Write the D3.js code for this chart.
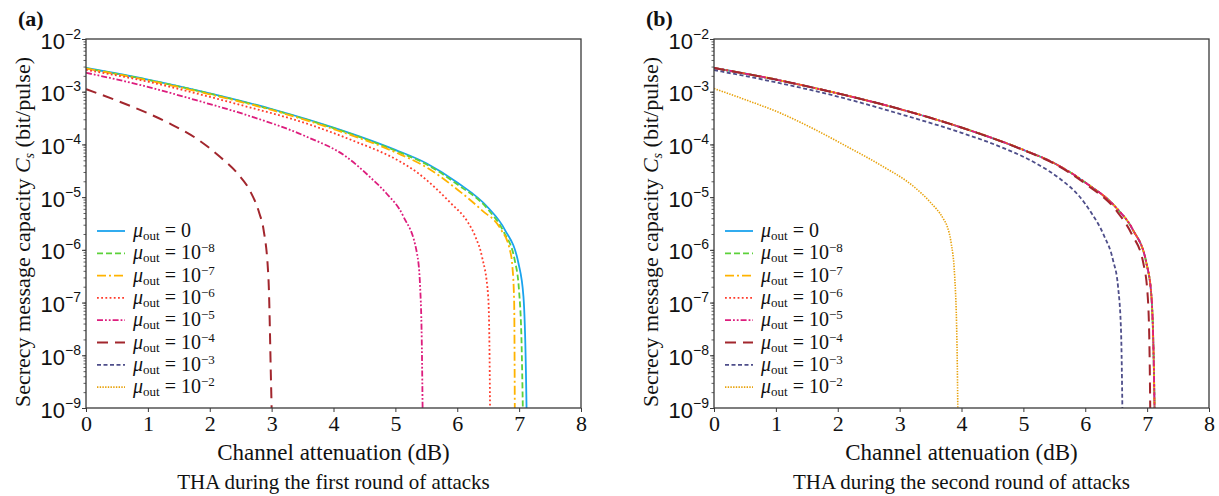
<!DOCTYPE html>
<html>
<head>
<meta charset="utf-8">
<script src="https://cdn.jsdelivr.net/npm/d3@7"></script>
<style>
  body { margin: 0; background: #fff; }
  svg { font-family: "Liberation Serif", "Times New Roman", serif; }
</style>
</head>
<body>
<svg id="chart" width="1219" height="496"></svg>
<script>
// legend exponents for mu_out (index 0 means mu_out = 0)
const muExp = ["0", "−8", "−7", "−6", "−5", "−4", "−3", "−2"];
const yTickExp = [-9, -8, -7, -6, -5, -4, -3, -2];
const xTicks = [0, 1, 2, 3, 4, 5, 6, 7, 8];

// panel (a): first round of attacks, attenuation (dB) vs Cs (bit/pulse)
const a0_x  = [0, 1, 2, 3, 4, 5, 5.5, 6, 6.5, 6.77, 6.99, 7.07, 7.11, 7.12];
const a0_y  = [2.82e-3, 1.70e-3, 9.3e-4, 4.7e-4, 2.09e-4, 7.9e-5, 4.4e-5, 1.9e-5, 6.3e-6, 2.4e-6, 5.5e-7, 1.3e-7, 5e-9, 1e-9];
const a8_x  = [0, 1, 2, 3, 4, 5, 5.5, 6, 6.5, 6.75, 6.93, 7.0, 7.04, 7.06];
const a8_y  = [2.79e-3, 1.68e-3, 9.2e-4, 4.6e-4, 2.04e-4, 7.6e-5, 4.2e-5, 1.75e-5, 5.8e-6, 2.2e-6, 6.3e-7, 1.6e-7, 1.6e-8, 1e-9];
const a7_x  = [0, 1, 2, 3, 4, 5, 5.5, 6, 6.4, 6.7, 6.85, 6.89, 6.92, 6.93];
const a7_y  = [2.75e-3, 1.64e-3, 8.9e-4, 4.5e-4, 1.95e-4, 7.1e-5, 3.7e-5, 1.4e-5, 5.6e-6, 2.5e-6, 1.0e-6, 5.0e-7, 1.0e-7, 1e-9];
const a6_x  = [0, 1, 1.78, 2.5, 3.56, 4.3, 5.08, 5.35, 5.62, 5.9, 6.16, 6.3, 6.4, 6.5, 6.52, 6.53];
const a6_y  = [2.6e-3, 1.55e-3, 9.3e-4, 5.6e-4, 2.5e-4, 1.2e-4, 4.7e-5, 2.95e-5, 1.6e-5, 7.6e-6, 3.5e-6, 1.7e-6, 7.4e-7, 1.3e-7, 1.6e-8, 1e-9];
const a5_x  = [0, 0.9, 1.78, 2.7, 3.56, 4.2, 4.6, 4.85, 5.13, 5.35, 5.40, 5.43, 5.44];
const a5_y  = [2.29e-3, 1.32e-3, 6.9e-4, 3.3e-4, 1.41e-4, 5.9e-5, 2.34e-5, 1.2e-5, 4.3e-6, 8.5e-7, 2.0e-7, 1e-8, 1e-9];
const a4_x  = [0, 0.54, 1.0, 1.35, 1.8, 2.16, 2.45, 2.65, 2.8, 2.87, 2.95, 2.99, 3.0];
const a4_y  = [1.12e-3, 6.5e-4, 3.9e-4, 2.5e-4, 1.26e-4, 5.9e-5, 2.8e-5, 1.32e-5, 5.0e-6, 2.4e-6, 2.7e-7, 3.2e-9, 1e-9];

// panel (b): second round of attacks
const bTop_x = [0, 1, 2, 3, 4, 5, 5.5, 6, 6.5, 6.77, 6.99, 7.07, 7.11, 7.12];
const bTop_y = [2.82e-3, 1.70e-3, 9.3e-4, 4.7e-4, 2.09e-4, 7.9e-5, 4.4e-5, 1.9e-5, 6.3e-6, 2.4e-6, 5.5e-7, 1.3e-7, 5e-9, 1e-9];
const b4_x  = [0, 1, 2, 3, 4, 5, 5.5, 6, 6.5, 6.75, 6.94, 7.01, 7.04, 7.05];
const b4_y  = [2.82e-3, 1.70e-3, 9.3e-4, 4.7e-4, 2.09e-4, 7.8e-5, 4.3e-5, 1.8e-5, 5.6e-6, 2.0e-6, 5.5e-7, 1.3e-7, 1e-8, 1e-9];
const b3_x  = [0, 1, 2, 3, 4, 4.6, 5.2, 5.6, 5.9, 6.1, 6.3, 6.45, 6.53, 6.58, 6.6];
const b3_y  = [2.57e-3, 1.51e-3, 8.1e-4, 3.8e-4, 1.66e-4, 9.3e-5, 4.4e-5, 2.19e-5, 1.05e-5, 5.0e-6, 1.9e-6, 6.3e-7, 2.0e-7, 2.5e-8, 1e-9];
const b2_x  = [0, 0.5, 1.08, 1.6, 2.15, 2.7, 3.23, 3.5, 3.7, 3.77, 3.83, 3.89, 3.93, 3.94];
const b2_y  = [1.15e-3, 7.1e-4, 3.9e-4, 2.0e-4, 9.1e-5, 4.0e-5, 1.58e-5, 7.9e-6, 4.0e-6, 2.75e-6, 1.41e-6, 3.1e-7, 1e-8, 1e-9];

// line styles, same order as muExp
const styles = [
  { color: "#1aa3ee", dash: null,               w: 1.8 },
  { color: "#5cd13a", dash: "6,3",              w: 1.8 },
  { color: "#ffb300", dash: "9,3,2,3",          w: 1.8 },
  { color: "#ff3c2c", dash: "1.8,2.4",          w: 1.8 },
  { color: "#dd1d7d", dash: "6,2,1.8,2,1.8,2",  w: 1.8 },
  { color: "#a2262d", dash: "11,7",             w: 2.0 },
  { color: "#4e4e8a", dash: "4,2.5",            w: 1.8 },
  { color: "#e8a20c", dash: "1.4,1.3",          w: 1.6 }
];

const panelA = [[a0_x, a0_y], [a8_x, a8_y], [a7_x, a7_y], [a6_x, a6_y], [a5_x, a5_y], [a4_x, a4_y], null, null];
const panelB = [[bTop_x, bTop_y], [bTop_x, bTop_y], [bTop_x, bTop_y], [bTop_x, bTop_y], [bTop_x, bTop_y], [b4_x, b4_y], [b3_x, b3_y], [b2_x, b2_y]];

const svg = d3.select("#chart");
const plotTop = 39, plotBottom = 408, plotW = 495;

function drawPanel(ox, tag, data, caption, id) {
  const x = d3.scaleLinear().domain([0, 8]).range([ox, ox + plotW]);
  const y = d3.scaleLog().domain([1e-9, 1e-2]).range([plotBottom, plotTop]);
  const g = svg.append("g");

  g.append("clipPath").attr("id", "clip" + id)
    .append("rect").attr("x", ox).attr("y", plotTop).attr("width", plotW).attr("height", plotBottom - plotTop);

  const line = d3.line()
    .x(d => x(d[0]))
    .y(d => y(d[1]))
    .curve(d3.curveMonotoneX);

  data.forEach((s, i) => {
    if (!s) return;
    const pts = s[0].map((v, k) => [v, s[1][k]]);
    g.append("path")
      .datum(pts)
      .attr("clip-path", "url(#clip" + id + ")")
      .attr("d", line)
      .attr("fill", "none")
      .attr("stroke", styles[i].color)
      .attr("stroke-width", styles[i].w)
      .attr("stroke-dasharray", styles[i].dash);
  });

  // frame
  g.append("rect")
    .attr("x", ox).attr("y", plotTop).attr("width", plotW).attr("height", plotBottom - plotTop)
    .attr("fill", "none").attr("stroke", "#3a3a3a").attr("stroke-width", 1.3);

  // x axis
  const xa = g.append("g").attr("transform", "translate(0," + plotBottom + ")")
    .call(d3.axisBottom(x).tickValues(xTicks).tickSize(4).tickPadding(3).tickFormat(d3.format("d")));
  xa.select(".domain").remove();
  xa.selectAll("line").attr("stroke", "#3a3a3a");
  xa.selectAll("text").attr("font-size", 22).attr("font-family", "Liberation Serif").attr("fill", "#111");

  // y minor ticks
  const ym = g.append("g").attr("transform", "translate(" + ox + ",0)")
    .call(d3.axisLeft(y).tickValues(y.ticks()).tickSize(2.5).tickFormat(""));
  ym.select(".domain").remove();
  ym.selectAll("line").attr("stroke", "#3a3a3a").attr("stroke-width", 0.8);

  // y major ticks
  const ya = g.append("g").attr("transform", "translate(" + ox + ",0)")
    .call(d3.axisLeft(y).tickValues(yTickExp.map(e => Math.pow(10, e))).tickSize(4).tickFormat(""));
  ya.select(".domain").remove();
  ya.selectAll("line").attr("stroke", "#3a3a3a");
  ya.selectAll(".tick").each(function (d, i) {
    const t = d3.select(this).append("text")
      .attr("x", -5).attr("y", 9)
      .attr("text-anchor", "end")
      .attr("fill", "#111");
    t.append("tspan").attr("font-size", 22).text("10");
    t.append("tspan").attr("font-size", 14).attr("dy", -10).text(String(yTickExp[i]).replace("-", "−"));
  });

  // y label
  const yl = g.append("text")
    .attr("transform", "translate(" + (ox - 56) + "," + 232 + ") rotate(-90)")
    .attr("text-anchor", "middle").attr("font-size", 22).attr("fill", "#111");
  yl.append("tspan").text("Secrecy message capacity ");
  yl.append("tspan").attr("font-style", "italic").text("C");
  yl.append("tspan").attr("font-style", "italic").attr("font-size", 14).attr("dy", 4).text("s");
  yl.append("tspan").attr("dy", -4).text(" (bit/pulse)");

  // x label and caption
  g.append("text").attr("x", ox + plotW / 2).attr("y", 460)
    .attr("text-anchor", "middle").attr("font-size", 23).attr("fill", "#111")
    .text("Channel attenuation (dB)");
  g.append("text").attr("x", ox + plotW / 2).attr("y", 489)
    .attr("text-anchor", "middle").attr("font-size", 21).attr("fill", "#111")
    .text(caption);

  // panel tag
  g.append("text").attr("x", ox - 68).attr("y", 26)
    .attr("font-size", 22).attr("font-weight", "bold").attr("fill", "#111").text(tag);

  // legend
  const lx = ox + 11;
  muExp.forEach((e, i) => {
    const ly = 231 + i * 22.3;
    g.append("line")
      .attr("x1", lx).attr("x2", lx + 28).attr("y1", ly).attr("y2", ly)
      .attr("stroke", styles[i].color)
      .attr("stroke-width", styles[i].w)
      .attr("stroke-dasharray", styles[i].dash);
    const t = g.append("text").attr("x", lx + 36).attr("y", ly + 6).attr("fill", "#111").attr("font-size", 20);
    t.append("tspan").attr("font-style", "italic").text("μ");
    t.append("tspan").attr("font-size", 13).attr("dy", 3).text("out");
    if (e === "0") {
      t.append("tspan").attr("dy", -3).text(" = 0");
    } else {
      t.append("tspan").attr("dy", -3).text(" = 10");
      t.append("tspan").attr("font-size", 13).attr("dy", -7).text(e);
    }
  });
}

drawPanel(86, "(a)", panelA, "THA during the first round of attacks", "a");
drawPanel(714, "(b)", panelB, "THA during the second round of attacks", "b");
</script>
</body>
</html>
